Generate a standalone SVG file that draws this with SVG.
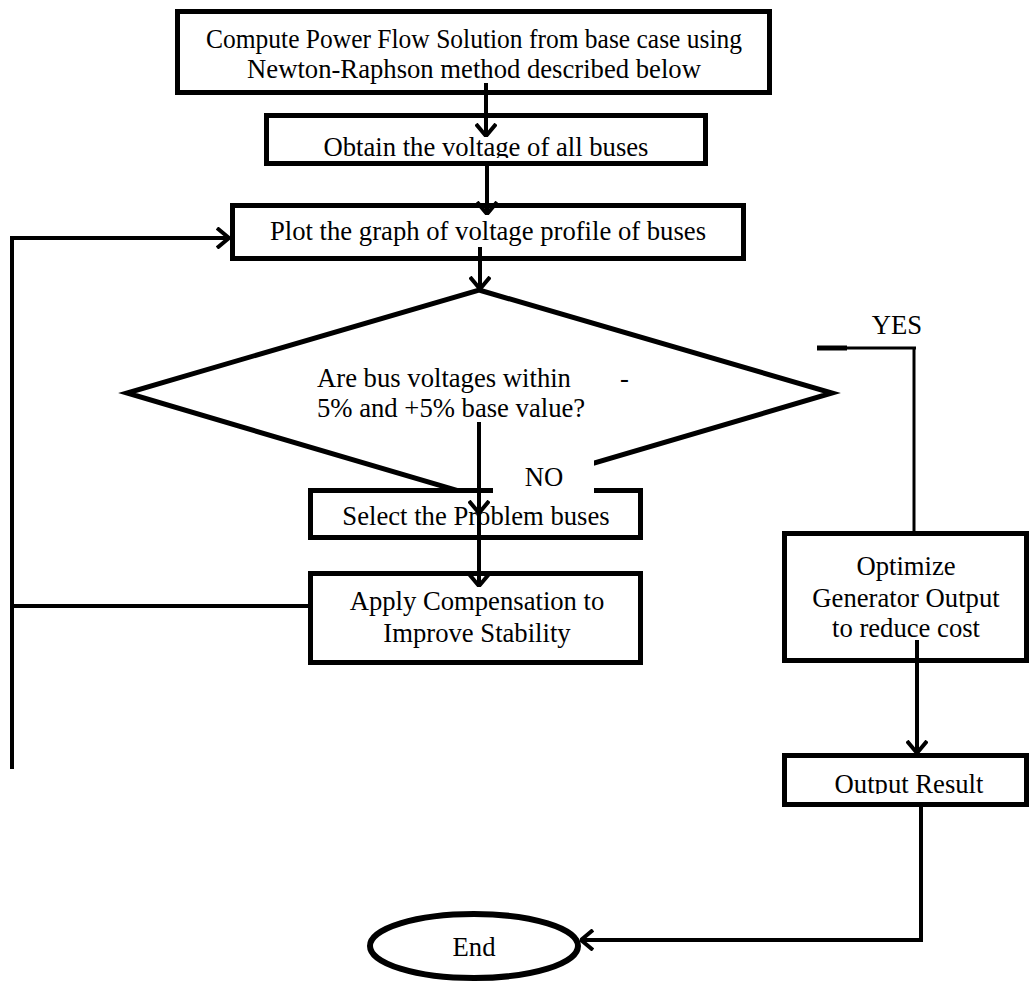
<svg xmlns="http://www.w3.org/2000/svg" width="1030" height="983" viewBox="0 0 1030 983">
<style>
.box{fill:#fff;stroke:#000;stroke-width:5}
.t{font-family:"Liberation Serif","Times New Roman",serif;font-size:26.67px;fill:#000}
.c{text-anchor:middle}
.ln{fill:none;stroke:#000;stroke-width:4}
.thin{fill:none;stroke:#000;stroke-width:3}
</style>
<defs>
<marker id="arr" viewBox="0 0 14 22" refX="13" refY="11" markerWidth="14" markerHeight="22" markerUnits="userSpaceOnUse" orient="auto">
<path d="M1,1 L13,11 L1,21" fill="none" stroke="#000" stroke-width="4"/>
</marker>
<clipPath id="clip2"><rect x="268" y="118" width="436" height="40"/></clipPath>
<clipPath id="clip7"><rect x="786" y="758" width="240" height="36"/></clipPath>
</defs>
<rect width="1030" height="983" fill="#fff"/>
<g id="n1">
<rect class="box" x="177.5" y="11.5" width="592" height="81"/>
<text class="t c" x="474" y="48" textLength="536" lengthAdjust="spacingAndGlyphs">Compute Power Flow Solution from base case using</text>
<text class="t c" x="474" y="78">Newton-Raphson method described below</text>
</g>
<g id="n2">
<rect class="box" x="266.5" y="115.5" width="439" height="48"/>
<text class="t c" x="486" y="156" clip-path="url(#clip2)">Obtain the voltage of all buses</text>
</g>
<g id="n3">
<rect class="box" x="232.5" y="205.5" width="511" height="53"/>
<text class="t c" x="488" y="240">Plot the graph of voltage profile of buses</text>
</g>
<g id="n4">
<polygon class="box" points="479,290 832,393 479,497 127,393"/>
<text class="t" x="317" y="387">Are bus voltages within<tspan x="620">-</tspan></text>
<text class="t" x="317" y="417">5% and +5% base value?</text>
</g>
<g id="n5">
<rect class="box" x="310.5" y="490.5" width="330" height="47"/>
<text class="t c" x="476" y="525">Select the Problem buses</text>
</g>
<g id="lblNO">
<rect x="493" y="452" width="101" height="42" fill="#fff"/>
<text class="t c" x="544" y="486">NO</text>
</g>
<g id="n6">
<rect class="box" x="310.5" y="573.5" width="330" height="89"/>
<text class="t c" x="477" y="610">Apply Compensation to</text>
<text class="t c" x="477" y="642">Improve Stability</text>
</g>
<g id="n7">
<rect class="box" x="784.5" y="533.5" width="242" height="127"/>
<text class="t c" x="906" y="575">Optimize</text>
<text class="t c" x="906" y="607">Generator Output</text>
<text class="t c" x="906" y="637">to reduce cost</text>
</g>
<g id="n8">
<rect class="box" x="784.5" y="755.5" width="242" height="49"/>
<text class="t c" x="909" y="793" clip-path="url(#clip7)">Output Result</text>
</g>
<g id="n9">
<ellipse cx="474" cy="946" rx="104" ry="32" fill="#fff" stroke="#000" stroke-width="6"/>
<text class="t c" x="474" y="956">End</text>
</g>
<g id="lblYES">
<text class="t c" x="897" y="334">YES</text>
</g>
<g id="connectors">
<path class="ln" d="M486,83 V136" marker-end="url(#arr)"/>
<path class="ln" d="M487,166 V214" marker-end="url(#arr)"/>
<path class="ln" d="M480,247 V289" marker-end="url(#arr)"/>
<path class="ln" d="M479,422 V513" marker-end="url(#arr)"/>
<path class="ln" d="M479,513 V586" marker-end="url(#arr)"/>
<path class="ln" d="M12,769 V238 H229" marker-end="url(#arr)"/>
<path class="ln" d="M308,606 H12"/>
<path fill="none" stroke="#000" stroke-width="5" d="M817,348 H847"/>
<path class="thin" d="M847,348 H916"/>
<path class="thin" d="M914,348 V533"/>
<path class="ln" stroke-width="5" d="M917,640 V753" marker-end="url(#arr)"/>
<path class="ln" d="M921,807 V940 H581" marker-end="url(#arr)"/>
</g>
</svg>
